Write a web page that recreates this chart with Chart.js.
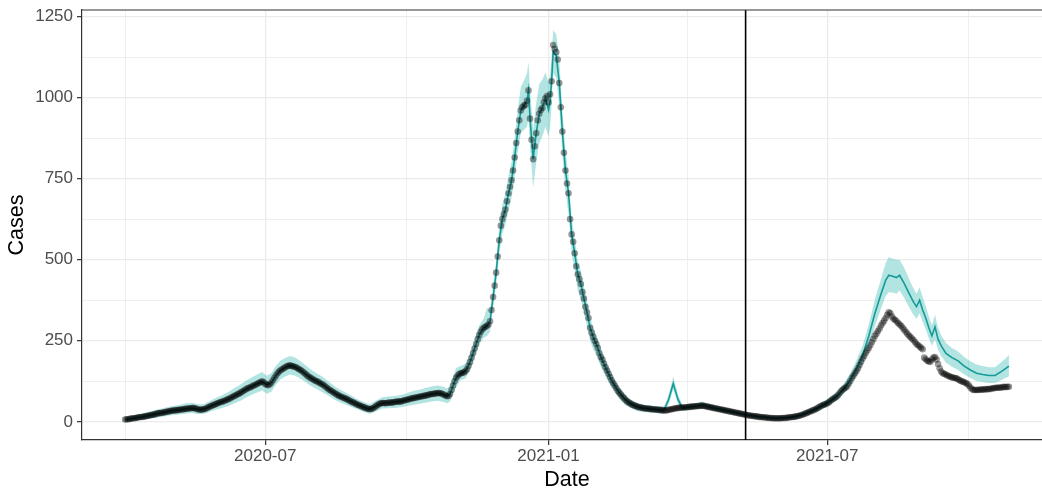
<!DOCTYPE html>
<html>
<head>
<meta charset="utf-8">
<title>Cases</title>
<script src="https://cdn.jsdelivr.net/npm/chart.js@4/dist/chart.umd.min.js"></script>
<style>
  html, body { margin: 0; padding: 0; background: #fff; overflow: hidden; }
  #wrap { width: 1056px; height: 493px; }
</style>
</head>
<body>
<div id="wrap"><canvas id="casesChart" width="1056" height="493"></canvas></div>
<script>
// daily reported cases, one row per month
const observedStart = "2020-04-01";
const observedCases = [
  /* 2020-04 */ 7, 8, 8, 9, 10, 11, 11, 12, 13, 14, 15, 15, 16, 17, 18, 19, 20, 21, 22, 23, 24, 26, 27, 27, 28, 29, 30, 31, 32, 33,
  /* 2020-05 */ 34, 35, 35, 36, 36, 37, 38, 38, 39, 40, 40, 41, 42, 42, 43, 42, 41, 39, 38, 37, 38, 39, 40, 42, 45, 47, 49, 51, 53, 55, 57,
  /* 2020-06 */ 59, 61, 62, 64, 66, 68, 70, 72, 75, 77, 80, 82, 85, 87, 90, 93, 96, 99, 102, 104, 106, 108, 111, 113, 115, 118, 120, 123, 125, 122,
  /* 2020-07 */ 117, 114, 113, 116, 121, 128, 136, 143, 150, 155, 159, 162, 165, 168, 171, 173, 174, 173, 171, 170, 168, 165, 162, 160, 156, 152, 148, 144, 140, 137, 134,
  /* 2020-08 */ 131, 128, 126, 124, 121, 118, 116, 113, 109, 105, 101, 98, 95, 92, 89, 86, 83, 80, 78, 76, 74, 72, 70, 67, 65, 62, 60, 58, 55, 53, 51,
  /* 2020-09 */ 49, 47, 45, 43, 41, 40, 39, 40, 42, 45, 49, 52, 55, 57, 58, 58, 57, 58, 59, 60, 59, 60, 61, 62, 63, 62, 63, 64, 66, 67,
  /* 2020-10 */ 68, 69, 71, 72, 73, 74, 75, 76, 77, 78, 79, 80, 81, 82, 83, 85, 86, 86, 87, 88, 88, 89, 88, 86, 84, 81, 79, 80, 86, 98, 112,
  /* 2020-11 */ 125, 136, 142, 147, 150, 151, 152, 156, 162, 172, 184, 198, 212, 226, 240, 255, 268, 278, 285, 290, 293, 296, 300, 310, 345, 385, 420, 460, 510, 560,
  /* 2020-12 */ 605, 625, 640, 655, 680, 705, 725, 745, 775, 815, 860, 895, 930, 960, 970, 975, 978, 990, 1022, 935, 870, 810, 850, 890, 930, 950, 962, 968, 985, 998, 1005,
  /* 2021-01 */ 985, 1010, 1050, 1162, 1150, 1140, 1117, 1045, 970, 895, 830, 775, 735, 705, 625, 578, 555, 520, 480, 455, 440, 425, 400, 380, 355, 338, 320, 290, 275, 262, 250,
  /* 2021-02 */ 240, 228, 212, 200, 192, 180, 168, 158, 148, 138, 128, 120, 112, 104, 96, 90, 84, 78, 73, 68, 63, 60, 57, 54, 52, 50, 48, 46,
  /* 2021-03 */ 45, 44, 43, 42, 41, 41, 40, 40, 39, 39, 38, 38, 37, 37, 36, 36, 35, 35, 36, 37, 38, 39, 40, 41, 42, 43, 43, 44, 44, 44, 45,
  /* 2021-04 */ 45, 46, 46, 47, 47, 48, 48, 49, 49, 50, 50, 49, 48, 47, 46, 45, 44, 43, 42, 41, 40, 39, 38, 37, 36, 35, 34, 33, 32, 31,
  /* 2021-05 */ 30, 29, 28, 27, 26, 25, 24, 23, 22, 21, 20, 19, 19, 18, 17, 17, 16, 15, 15, 14, 14, 13, 13, 12, 12, 12, 11, 11, 11, 11, 11,
  /* 2021-06 */ 11, 12, 12, 12, 13, 13, 14, 15, 15, 16, 17, 18, 19, 21, 22, 24, 26, 28, 30, 32, 34, 36, 38, 40, 43, 46, 49, 51, 53, 55,
  /* 2021-07 */ 57, 60, 64, 68, 71, 74, 77, 82, 88, 94, 99, 103, 106, 110, 118, 126, 135, 142, 150, 157, 165, 175, 185, 195, 203, 212, 220, 228, 236, 246, 255,
  /* 2021-08 */ 265, 272, 280, 288, 297, 305, 312, 320, 330, 338, 335, 325, 318, 315, 310, 305, 300, 296, 290, 284, 278, 272, 266, 262, 257, 252, 246, 240, 236, 232, 228,
  /* 2021-09 */ 224, 198, 193, 188, 186, 185, 192, 198, 200, 192, 178, 165, 155, 150, 148, 146, 143, 141, 139, 137, 136, 135, 134, 131, 128, 126, 124, 122, 120, 117,
  /* 2021-10 */ 112, 106, 101, 98, 98, 99, 98, 99, 100, 99, 100, 101, 100, 102, 101, 103, 104, 104, 105, 106, 105, 106, 107, 108, 107, 108, 108,
];

// model fit with its interval, sampled at these day offsets from observedStart
const fitDayIdx = [
  0, 3, 7, 11, 15, 19, 23, 27, 31, 35, 39, 43, 47, 51, 55, 59, 63, 67, 71, 75, 79, 83, 87, 89, 92, 95, 98, 101, 104, 107,
  110, 113, 117, 121, 125, 129, 133, 137, 141, 145, 149, 153, 157, 159, 163, 167, 171, 175, 179, 183, 187, 191, 195, 199, 203, 207, 209, 211, 213, 215,
  218, 221, 224, 227, 230, 233, 235, 237, 239, 241, 243, 245, 247, 249, 251, 253, 255, 257, 259, 261, 262, 263, 265, 267, 269, 271, 273, 275, 276, 277,
  278, 280, 282, 284, 286, 288, 290, 292, 294, 296, 298, 300, 302, 304, 306, 309, 312, 315, 318, 321, 324, 327, 330, 333, 337, 341, 345, 348, 350, 353,
  356, 359, 362, 364, 367, 371, 375, 379, 383, 387, 391, 395, 399, 403, 407, 411, 415, 419, 423, 427, 431, 435, 439, 443, 447, 451, 455, 459, 463, 467,
  471, 475, 479, 483, 487, 491, 494, 496, 499, 501, 503, 506, 509, 512, 514, 516, 518, 520, 522, 524, 526, 528, 530, 533, 537, 541, 545, 549, 553, 557,
  561, 565, 569, 572, 574,
];
const fitCases = [
  7, 9, 12, 15, 19, 23, 27, 31, 35, 37, 40, 42, 39, 39, 47, 55, 62, 70, 80, 90, 102, 111, 120, 125, 114, 121, 143, 159, 168, 174,
  170, 162, 148, 134, 124, 113, 98, 86, 76, 67, 58, 49, 41, 39, 49, 58, 59, 61, 63, 68, 73, 77, 81, 86, 88, 84, 79, 86, 112, 136,
  150, 156, 184, 226, 268, 290, 296, 310, 385, 460, 560, 625, 655, 705, 745, 815, 895, 960, 975, 990, 1022, 935, 810, 890, 950, 968, 998, 962, 990, 1050,
  1140, 1130, 1045, 895, 775, 705, 578, 520, 455, 425, 380, 338, 290, 262, 240, 200, 168, 138, 112, 90, 73, 60, 52, 46, 42, 40, 38, 36, 37, 68,
  118, 70, 42, 44, 46, 48, 53, 47, 42, 38, 34, 30, 26, 22, 19, 16, 14, 12, 11, 12, 13, 16, 21, 28, 36, 46, 55, 68, 82, 103,
  130, 165, 205, 265, 335, 395, 437, 452, 448, 445, 452, 427, 398, 370, 355, 375, 345, 320, 290, 265, 293, 255, 235, 212, 198, 188, 172, 160, 150, 146,
  143, 143, 155, 165, 172,
];
const fitLower = [
  2, 3, 5, 7, 9, 12, 15, 18, 21, 23, 25, 27, 24, 24, 31, 37, 43, 49, 57, 65, 76, 85, 93, 97, 87, 93, 115, 131, 140, 146,
  143, 136, 123, 110, 100, 89, 77, 66, 57, 50, 42, 34, 27, 25, 33, 41, 42, 43, 45, 49, 52, 56, 59, 63, 65, 61, 57, 62, 86, 108,
  129, 134, 160, 200, 240, 260, 265, 278, 350, 424, 518, 580, 608, 654, 690, 755, 830, 890, 900, 910, 935, 850, 722, 800, 860, 880, 910, 880, 908, 978,
  1075, 1060, 970, 825, 710, 640, 520, 466, 405, 376, 334, 295, 250, 225, 205, 170, 141, 113, 91, 71, 56, 46, 39, 33, 30, 28, 27, 25, 26, 54,
  100, 57, 34, 36, 38, 39, 43, 38, 34, 31, 27, 24, 20, 17, 14, 11, 10, 8, 7, 8, 9, 11, 16, 22, 29, 38, 46, 57, 69, 88,
  112, 142, 178, 232, 295, 350, 388, 400, 398, 395, 405, 382, 355, 330, 318, 335, 308, 285, 258, 235, 255, 222, 204, 183, 170, 160, 146, 135, 126, 122,
  120, 120, 128, 136, 140,
];
const fitUpper = [
  13, 16, 21, 25, 30, 36, 40, 45, 49, 52, 57, 59, 55, 54, 64, 74, 82, 92, 104, 115, 128, 139, 149, 154, 142, 150, 173, 189, 197, 203,
  199, 190, 175, 160, 148, 137, 121, 107, 96, 86, 75, 65, 57, 55, 66, 76, 78, 80, 83, 88, 95, 99, 104, 109, 112, 108, 103, 111, 140, 166,
  172, 179, 209, 253, 297, 320, 352, 345, 420, 498, 602, 670, 704, 758, 802, 877, 962, 1032, 1052, 1075, 1110, 1025, 900, 982, 1042, 1055, 1078, 1045, 1070, 1125,
  1208, 1195, 1115, 960, 835, 760, 628, 565, 496, 466, 418, 373, 323, 292, 268, 225, 190, 158, 130, 106, 88, 73, 64, 58, 53, 51, 49, 47, 48, 84,
  140, 86, 51, 53, 55, 58, 63, 56, 50, 46, 41, 37, 32, 28, 25, 21, 19, 17, 15, 16, 18, 21, 27, 35, 43, 55, 65, 80, 96, 120,
  150, 190, 235, 300, 378, 442, 490, 508, 502, 500, 500, 475, 442, 412, 395, 415, 385, 357, 325, 298, 330, 290, 268, 244, 228, 217, 200, 187, 177, 172,
  168, 168, 184, 196, 206,
];

// reference line date
const cutoffDate = "2021-05-09";

// axis ticks
const xTickMonths = ["2020-07", "2021-01", "2021-07"];
const xMinorMonths = ["2020-04", "2020-10", "2021-04", "2021-10"];
const yTickValues = [0, 250, 500, 750, 1000, 1250];
const yMinorValues = [125, 375, 625, 875, 1125];

const Y_MIN = -56;
const Y_MAX = 1270;

const DAY_MS = 86400000;
const EPOCH = Date.UTC(2020, 0, 1);
function toDay(iso) {
  const [y, m, d] = iso.split("-").map(Number);
  return Math.round((Date.UTC(y, m - 1, d || 1) - EPOCH) / DAY_MS);
}
function monthLabel(day) {
  const dt = new Date(EPOCH + day * DAY_MS);
  return dt.getUTCFullYear() + "-" + String(dt.getUTCMonth() + 1).padStart(2, "0");
}

const start = toDay(observedStart);
const observedPoints = observedCases.map((v, i) => ({ x: start + i, y: v }));
const fitPoints = fitDayIdx.map((o, i) => ({ x: start + o, y: fitCases[i] }));
const lowerPoints = fitDayIdx.map((o, i) => ({ x: start + o, y: fitLower[i] }));
const upperPoints = fitDayIdx.map((o, i) => ({ x: start + o, y: fitUpper[i] }));
const cutoff = toDay(cutoffDate);

const majorX = new Set(xTickMonths.map(toDay));
const majorY = new Set(yTickValues);

Chart.defaults.font.family = "'Liberation Sans', Arial, sans-serif";

// ggplot-style panel: border line along the top of the plot area
const panelTop = {
  id: "panelTop",
  afterDatasetsDraw(chart) {
    const { ctx, chartArea: a } = chart;
    ctx.save();
    ctx.strokeStyle = "#333";
    ctx.lineWidth = 1.2;
    ctx.beginPath();
    ctx.moveTo(a.left, a.top);
    ctx.lineTo(a.right + 2, a.top);
    ctx.stroke();
    ctx.restore();
  },
};

const gridColor = "#ebebeb";

new Chart(document.getElementById("casesChart"), {
  type: "line",
  data: {
    datasets: [
      {
        label: "cutoff",
        data: [{ x: cutoff, y: Y_MIN }, { x: cutoff, y: Y_MAX }],
        borderColor: "#000",
        borderWidth: 1.6,
        pointRadius: 0,
      },
      {
        label: "observed",
        data: observedPoints,
        showLine: false,
        pointRadius: 3.3,
        pointBackgroundColor: "rgba(0,0,0,0.4)",
        pointBorderWidth: 0,
        pointBorderColor: "transparent",
      },
      {
        label: "fitted",
        data: fitPoints,
        borderColor: "#149a97",
        borderWidth: 1.6,
        pointRadius: 0,
      },
      {
        label: "lower",
        data: lowerPoints,
        borderColor: "transparent",
        borderWidth: 0,
        pointRadius: 0,
        fill: false,
      },
      {
        label: "upper",
        data: upperPoints,
        borderColor: "transparent",
        borderWidth: 0,
        pointRadius: 0,
        fill: "-1",
        backgroundColor: "rgba(72,190,185,0.42)",
      },
    ],
  },
  options: {
    responsive: false,
    animation: false,
    layout: { padding: { top: 10, right: 4, left: 0, bottom: 0 } },
    plugins: {
      legend: { display: false },
      tooltip: { enabled: false },
    },
    scales: {
      x: {
        type: "linear",
        min: toDay("2020-03-04"),
        max: toDay("2021-11-24"),
        afterBuildTicks: (scale) => {
          scale.ticks = [...xMinorMonths, ...xTickMonths]
            .map(toDay)
            .sort((a, b) => a - b)
            .map((v) => ({ value: v }));
        },
        afterFit: (scale) => {
          scale.height = 53;
          scale.paddingLeft = 0;
          scale.paddingRight = 0;
        },
        ticks: {
          autoSkip: false,
          maxRotation: 0,
          padding: 1,
          color: "#4d4d4d",
          font: { size: 17 },
          callback: (v) => (majorX.has(v) ? monthLabel(v) : ""),
        },
        grid: {
          color: gridColor,
          lineWidth: (c) => (c.tick && majorX.has(c.tick.value) ? 1.3 : 0.8),
          tickLength: 5,
          tickWidth: 1.2,
          tickColor: (c) => (c.tick && majorX.has(c.tick.value) ? "#333" : "rgba(0,0,0,0)"),
        },
        border: { color: "#333", width: 1.2 },
        title: { display: true, text: "Date", color: "#000", font: { size: 21.5 }, padding: 0 },
      },
      y: {
        min: Y_MIN,
        max: Y_MAX,
        afterBuildTicks: (scale) => {
          scale.ticks = [...yTickValues, ...yMinorValues]
            .sort((a, b) => a - b)
            .map((v) => ({ value: v }));
        },
        afterFit: (scale) => {
          scale.width = 82;
          scale.paddingTop = 0;
          scale.paddingBottom = 0;
        },
        ticks: {
          padding: 4,
          color: "#4d4d4d",
          font: { size: 17 },
          callback: (v) => (majorY.has(v) ? String(v) : ""),
        },
        grid: {
          color: gridColor,
          lineWidth: (c) => (c.tick && majorY.has(c.tick.value) ? 1.3 : 0.8),
          tickLength: 5,
          tickWidth: 1.2,
          tickColor: (c) => (c.tick && majorY.has(c.tick.value) ? "#333" : "rgba(0,0,0,0)"),
        },
        border: { color: "#333", width: 1.2 },
        title: { display: true, text: "Cases", color: "#000", font: { size: 21.5 }, padding: { top: 4, bottom: 0 } },
      },
    },
  },
  plugins: [panelTop],
});
</script>
</body>
</html>
